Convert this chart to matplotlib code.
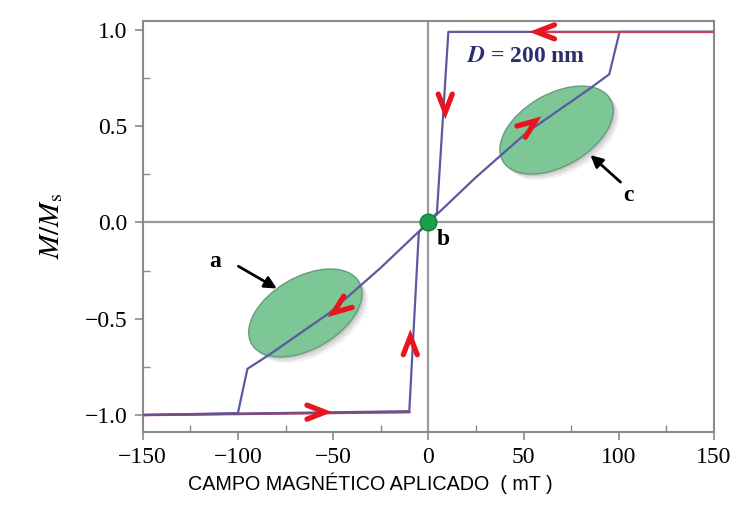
import numpy as np
import matplotlib
matplotlib.use("Agg")
import matplotlib.pyplot as plt
from matplotlib.patches import Ellipse
from matplotlib.transforms import Affine2D, ScaledTranslation

plt.rcParams["mathtext.fontset"] = "stix"

# descending branch (from +150 mT down to -150 mT)
campo_desc = [150, 10.5, 4.5, 0, -25, -52, -84, -95, -100, -150]
m_desc = [0.99, 0.99, 0.05, 0, -0.235, -0.47, -0.69, -0.76, -0.99, -1.0]
# ascending branch (from -150 mT up to +150 mT)
campo_asc = [-150, -10, -5, 0, 25, 52, 84, 95, 100.4, 150]
m_asc = [-1.0, -0.98, -0.05, 0, 0.235, 0.47, 0.69, 0.77, 0.99, 0.99]
# reddish traces along the saturated parts
rojo_top_x = [58, 150]
rojo_top_y = [0.99, 0.99]
rojo_bot_x = [-150, -10]
rojo_bot_y = [-1.0, -0.985]

# red chevrons: x, y, direction (deg)
flechas_x = [61.5, 8.9, 52.5, -46, -9.5, -59]
flechas_y = [0.99, 0.62, 0.50, -0.44, -0.64, -0.985]
flechas_ang = [180, -90, 37, 217, 90, 0]

# green ellipses (centres)
elipse_x = [-64.6, 67.3]
elipse_y = [-0.47, 0.48]

xticks = [-150, -100, -50, 0, 50, 100, 150]
yticks = [-1.0, -0.5, 0.0, 0.5, 1.0]

serif = "Liberation Serif"
azul = "#5a5a9e"

fig = plt.figure(figsize=(7.49, 5.05), dpi=100)
ax = fig.add_axes([0.1905, 0.1446, 0.7628, 0.8144])
ax.set_xlim(-150, 150)
ax.set_ylim(-1.088, 1.048)
ax.set_autoscale_on(False)

ax.axhline(0, color="#9a9a9a", lw=1.6, zorder=1)
ax.axvline(0, color="#9a9a9a", lw=1.6, zorder=1)

# ellipses drawn in screen inches so the tilt is kept
for cx, cy in zip(elipse_x, elipse_y):
    for k, a in [(6, 0.08), (4, 0.12), (2, 0.15)]:
        tr = fig.dpi_scale_trans + ScaledTranslation(cx, cy, ax.transData) + Affine2D().translate(k, -k)
        ax.add_patch(Ellipse((0, 0), 1.24, 0.72, angle=30, transform=tr,
                             facecolor="#555555", edgecolor="none", alpha=a, zorder=2))
    tr = fig.dpi_scale_trans + ScaledTranslation(cx, cy, ax.transData)
    ax.add_patch(Ellipse((0, 0), 1.24, 0.72, angle=30, transform=tr,
                         facecolor="#7dc696", edgecolor="#6a9a7c", lw=1.0, zorder=3))

ax.plot(rojo_bot_x, rojo_bot_y, color="#c8405a", lw=1.8, zorder=4)
ax.plot(campo_desc, m_desc, color=azul, lw=1.6, zorder=5)
ax.plot(campo_asc, m_asc, color=azul, lw=1.6, zorder=5)
ax.plot(rojo_bot_x, rojo_bot_y, color="#7a4a80", lw=1.2, alpha=0.7, zorder=5)
ax.plot(rojo_top_x, rojo_top_y, color="#c8405a", lw=1.6, zorder=6)

# origin dot
ax.plot([0], [0], "o", color="#1a9e4a", markersize=12, markeredgecolor="#137a38", zorder=7)

# red chevrons, drawn in inches around each anchor point
chev_x = [-0.09, 0.09, -0.09]
chev_y = [0.07, 0.0, -0.07]
for x, y, a in zip(flechas_x, flechas_y, flechas_ang):
    tr = Affine2D().rotate_deg(a) + fig.dpi_scale_trans + ScaledTranslation(x, y, ax.transData)
    ax.plot(chev_x, chev_y, color="#e8141e", lw=3.8, transform=tr,
            solid_capstyle="round", solid_joinstyle="miter", zorder=8)

# labels and arrows
ax.text(-112, -0.205, "a", fontsize=17, fontweight="bold", family=serif, ha="center", va="center")
ax.annotate("", xy=(-78.3, -0.35), xytext=(-101, -0.22),
            arrowprops=dict(arrowstyle="-|>", color="black", lw=2, mutation_scale=18))
ax.text(8, -0.09, "b", fontsize=17, fontweight="bold", family=serif, ha="center", va="center")
ax.text(105, 0.14, "c", fontsize=17, fontweight="bold", family=serif, ha="center", va="center")
ax.annotate("", xy=(84, 0.36), xytext=(102, 0.2),
            arrowprops=dict(arrowstyle="-|>", color="black", lw=2, mutation_scale=18))
ax.text(51, 0.86, r"$\mathbfit{D}$ = 200 nm", fontsize=17, fontweight="bold", family=serif,
        color="#2b2d6e", ha="center", va="center")

# axes styling
for s in ax.spines.values():
    s.set_color("#8a8a8a")
    s.set_linewidth(1.5)
ax.set_xticks(xticks)
ax.set_yticks(yticks)
ax.set_xticklabels([f"{v}".replace("-", "\u2212") for v in xticks], family=serif, fontsize=17)
ax.set_yticklabels([f"{v:.1f}".replace("-", "\u2212") for v in yticks], family=serif, fontsize=17)
ax.set_xticks([-125, -75, -25, 25, 75, 125], minor=True)
ax.set_yticks([-0.75, -0.25, 0.25, 0.75], minor=True)
ax.tick_params(which="major", direction="out", length=6, width=1.2, color="#8a8a8a", pad=5)
ax.tick_params(which="minor", direction="in", length=5, width=1.0, color="#8a8a8a")

ax.set_ylabel(r"$M/M_\mathrm{s}$", fontsize=21)
ax.yaxis.set_label_coords(-0.135, 0.5)
fig.text(0.495, 0.044, "CAMPO MAGNÉTICO APLICADO  ( mT )", fontsize=14.2,
         family="Liberation Sans", ha="center", va="center")

fig.savefig("out.png", dpi=100)
